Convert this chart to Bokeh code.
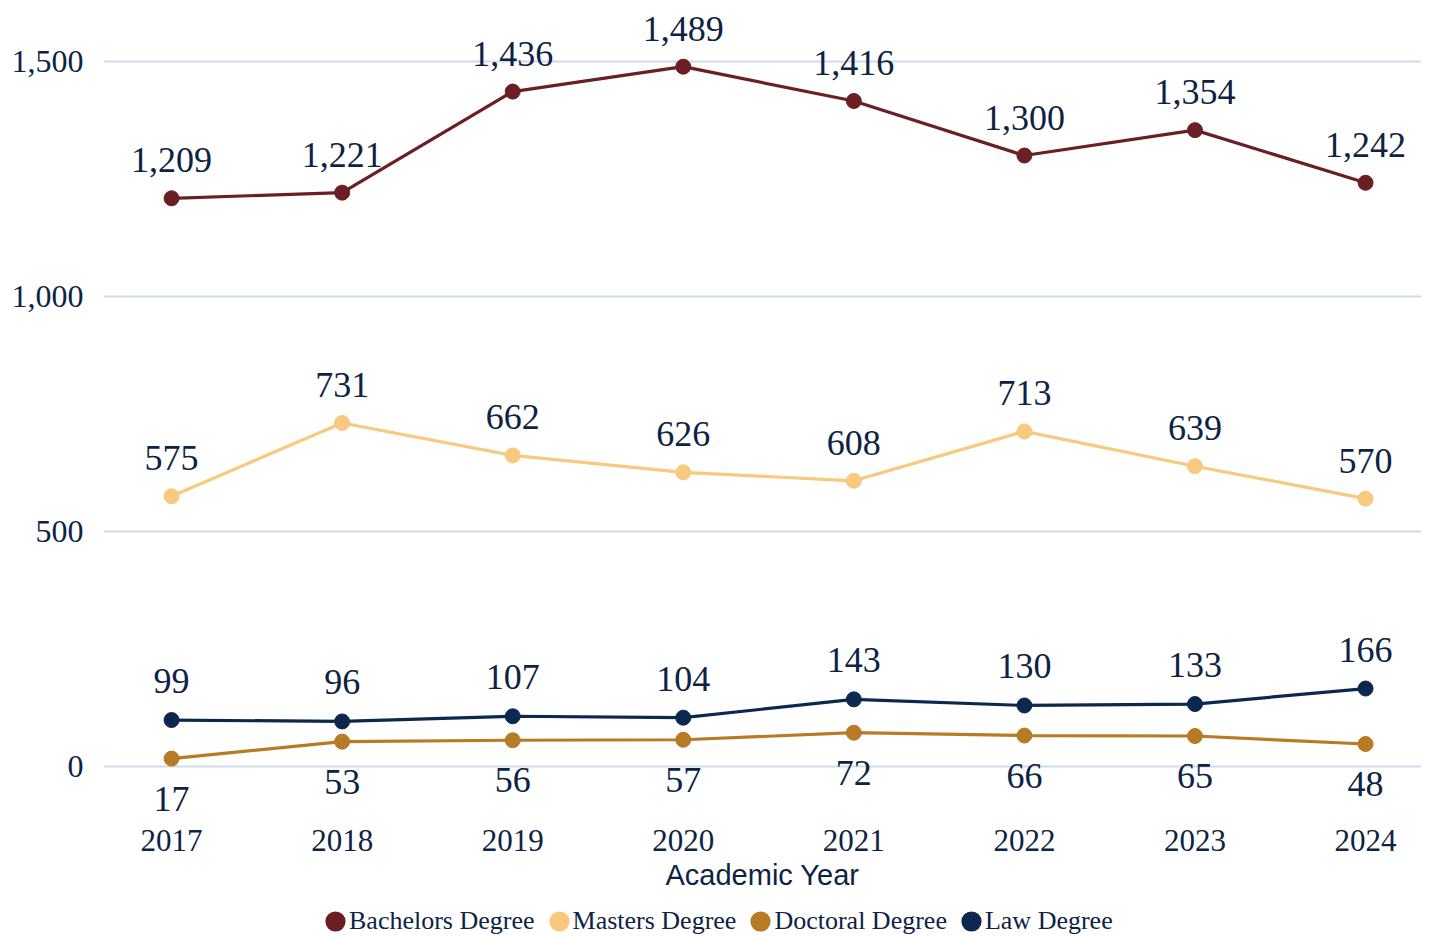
from bokeh.plotting import figure
from bokeh.layouts import column
from bokeh.models import ColumnDataSource, FixedTicker, NumeralTickFormatter, Legend, LegendItem, Range1d
from bokeh.core.properties import value
from bokeh.embed import file_html
from bokeh.resources import INLINE

years = [2017, 2018, 2019, 2020, 2021, 2022, 2023, 2024]
bachelors = [1209, 1221, 1436, 1489, 1416, 1300, 1354, 1242]
masters = [575, 731, 662, 626, 608, 713, 639, 570]
doctoral = [17, 53, 56, 57, 72, 66, 65, 48]
law = [99, 96, 107, 104, 143, 130, 133, 166]
y_ticks = [0, 500, 1000, 1500]

series = [
    ("Bachelors Degree", bachelors, "#6b1f24", -38),
    ("Masters Degree", masters, "#f8c97e", -38),
    ("Doctoral Degree", doctoral, "#b87b25", 40),
    ("Law Degree", law, "#0c2850", -39),
]

TEXT = "#0d2344"
SERIF = "Liberation Serif"

p = figure(width=1421, height=898, output_backend="svg", toolbar_location=None,
           x_range=Range1d(2016.601, 2024.328), y_range=Range1d(-119, 1629.8),
           min_border_left=103, min_border_right=0, min_border_top=0, min_border_bottom=76)
p.outline_line_color = None
p.xgrid.grid_line_color = None
p.ygrid.grid_line_color = "#d0dbe9"
p.ygrid.grid_line_width = 2
p.ygrid.ticker = FixedTicker(ticks=y_ticks)

p.yaxis.ticker = FixedTicker(ticks=y_ticks)
p.yaxis.formatter = NumeralTickFormatter(format="0,0")
p.xaxis.ticker = FixedTicker(ticks=years)
for ax in (p.xaxis, p.yaxis):
    ax.axis_line_color = None
    ax.major_tick_line_color = None
    ax.minor_tick_line_color = None
    ax.major_label_text_font = SERIF
    ax.major_label_text_color = TEXT
p.xaxis.major_label_text_font_size = "31px"
p.yaxis.major_label_text_font_size = "32px"
p.yaxis.major_label_standoff = 14
p.xaxis.major_label_standoff = 1
p.xaxis.axis_label = "Academic Year"
p.xaxis.axis_label_text_font = "Liberation Sans"
p.xaxis.axis_label_text_font_style = "normal"
p.xaxis.axis_label_text_font_size = "29px"
p.xaxis.axis_label_text_color = TEXT
p.xaxis.axis_label_standoff = 5

# legend strip
pl = figure(width=1421, height=38, output_backend="svg", toolbar_location=None,
            min_border=0, x_range=Range1d(0, 1), y_range=Range1d(0, 1))
pl.outline_line_color = None
pl.axis.visible = False
pl.grid.grid_line_color = None

items = []
for name, vals, color, off in series:
    src = ColumnDataSource(dict(x=years, y=vals, lab=[f"{v:,}" for v in vals]))
    p.line("x", "y", source=src, line_color=color, line_width=3.2)
    p.scatter("x", "y", source=src, size=15, fill_color=color, line_color=color)
    p.text("x", "y", text="lab", source=src, y_offset=off, text_align="center",
           text_baseline="middle", text_font=value(SERIF), text_font_size="36px",
           text_color=TEXT)
    # off-range proxy point, only used to draw the legend swatch
    dummy = pl.scatter(x=[-5], y=[-5], marker="circle", fill_color=color,
                       line_color=color, line_width=9)
    items.append(LegendItem(label=name, renderers=[dummy]))

legend = Legend(items=items, orientation="horizontal", location=(218, 0),
                label_text_font=SERIF, label_text_font_size="26px", label_text_color=TEXT,
                glyph_width=28, glyph_height=28, spacing=10, label_standoff=0,
                padding=0, margin=0, border_line_color=None, background_fill_alpha=0)
pl.add_layout(legend, "center")

open("out.html", "w").write(file_html(column(p, pl, spacing=0), INLINE))
